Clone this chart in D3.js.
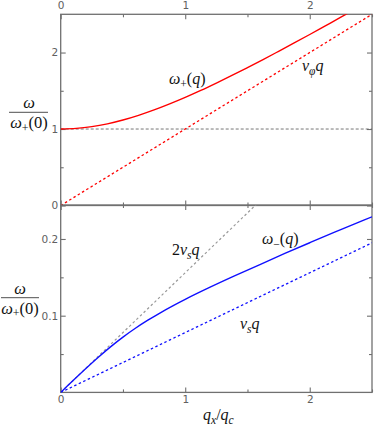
<!DOCTYPE html>
<html><head><meta charset="utf-8">
<script src="https://cdn.jsdelivr.net/npm/d3@7"></script>
<style>body{margin:0;background:#fff}svg{display:block}</style>
</head><body><svg id="c" width="374" height="428"></svg>
<script>
// ---- data ----
const qPlus = [0,0.125,0.25,0.375,0.5,0.625,0.75,0.875,1,1.125,1.25,1.375,1.5,1.625,1.75,1.875,2,2.125,2.25,2.375,2.5];
const omegaPlus = [1,1.008,1.031,1.068,1.118,1.179,1.25,1.329,1.414,1.505,1.601,1.7,1.803,1.908,2.016,2.125,2.236,2.349,2.462,2.577,2.693];
const qPhase = [0,2.5];
const phaseLine = [0,2.5];          // v_phi q
const qMinus = [0,0.1,0.2,0.3,0.4,0.5,0.6,0.7,0.8,0.9,1.0,1.2,1.4,1.6,1.8,2.0,2.2,2.4,2.5];
const omegaMinus = [0,0.0156,0.0309,0.0456,0.0594,0.0721,0.0836,0.0941,0.1038,0.1128,0.1213,0.1371,0.1521,0.1667,0.1811,0.1951,0.2089,0.2223,0.2289];
const qSound = [0,2.5];
const soundLine = [0,0.195];        // v_s q
const doubleSoundLine = [0,0.39];   // 2 v_s q
const xMajor = [0,1,2], xMinor = [0.5,1.5,2.5];
const yTopMajor = [0,1,2], yTopMinor = [0.5,1.5];
const yBotMajor = [0.1,0.2], yBotMinor = [0.05,0.15];

const svg = d3.select("#c");
const L = 60.7, R = 372;
const x = d3.scaleLinear([0,2.5],[L,R]);
const yT = d3.scaleLinear([0,2.5],[205.5,14.3]);
const yB = d3.scaleLinear([0,0.2443],[392.4,205]);
const axisCol = "#707070", textCol = "#606060";
const fmt = d => d3.format("")(d);

function styleAxis(g){
  g.select(".domain").remove();
  g.selectAll("line").attr("stroke",axisCol).attr("stroke-width",1.1);
  g.selectAll("text").attr("fill",textCol).attr("font-family","DejaVu Sans").attr("font-size","10.5px");
}
function panel(y, top, bottom, yMaj, yMin, showTopLabels, showBottomLabels, yFmt){
  const defsId = "clip"+Math.round(top);
  svg.append("clipPath").attr("id",defsId).append("rect")
    .attr("x",L).attr("y",top).attr("width",R-L).attr("height",bottom-top);
  const mk = (axis, vals, size, labels, tr, pad) => {
    const a = axis.tickValues(vals).tickSizeInner(-size).tickSizeOuter(0).tickPadding(pad)
      .tickFormat(labels ? (labels===true?fmt:labels) : "");
    svg.append("g").attr("transform",tr).call(a).call(styleAxis);
  };
  mk(d3.axisLeft(y), yMaj, 5, yFmt, `translate(${L},0)`, 2.5);
  mk(d3.axisLeft(y), yMin, 3, false, `translate(${L},0)`, 2.5);
  mk(d3.axisRight(y), yMaj, 5, false, `translate(${R},0)`, 2);
  mk(d3.axisRight(y), yMin, 3, false, `translate(${R},0)`, 2);
  mk(d3.axisTop(x), xMajor, 5, showTopLabels, `translate(0,${top})`, 5);
  mk(d3.axisTop(x), xMinor, 3, false, `translate(0,${top})`, 5);
  mk(d3.axisBottom(x), xMajor, 5, showBottomLabels, `translate(0,${bottom})`, 3.5);
  mk(d3.axisBottom(x), xMinor, 3, false, `translate(0,${bottom})`, 3.5);
  svg.append("rect").attr("x",L).attr("y",top).attr("width",R-L).attr("height",bottom-top)
    .attr("fill","none").attr("stroke",axisCol).attr("stroke-width",1.3);
  return svg.append("g").attr("clip-path",`url(#${defsId})`);
}

// top panel
const gT = panel(yT, yT(2.5), yT(0), yTopMajor, yTopMinor, true, false, true);
const lineT = d3.line().x(d=>x(d[0])).y(d=>yT(d[1]));
gT.append("path").attr("d",lineT([[0,1],[2.5,1]])).attr("fill","none")
  .attr("stroke","#666").attr("stroke-width",0.9).attr("stroke-dasharray","3,2");
gT.append("path").attr("d",lineT(qPhase.map((q,i)=>[q,phaseLine[i]]))).attr("fill","none")
  .attr("stroke","#ff0000").attr("stroke-width",1.3).attr("stroke-dasharray","2.5,2.5");
gT.append("path").attr("d",lineT.curve(d3.curveCatmullRom)(qPlus.map((q,i)=>[q,omegaPlus[i]]))).attr("fill","none")
  .attr("stroke","#ff0000").attr("stroke-width",1.4);

// bottom panel
const gB = panel(yB, yB(0.2443), yB(0), yBotMajor, yBotMinor, false, true, d=>d3.format(".1f")(d));
const lineB = d3.line().x(d=>x(d[0])).y(d=>yB(d[1]));
gB.append("path").attr("d",lineB(qSound.map((q,i)=>[q,doubleSoundLine[i]]))).attr("fill","none")
  .attr("stroke","#999").attr("stroke-width",1.2).attr("stroke-dasharray","2.5,2.5");
gB.append("path").attr("d",lineB(qSound.map((q,i)=>[q,soundLine[i]]))).attr("fill","none")
  .attr("stroke","#1010ff").attr("stroke-width",1.3).attr("stroke-dasharray","2.5,2.5");
gB.append("path").attr("d",lineB.curve(d3.curveCatmullRom)(qMinus.map((q,i)=>[q,omegaMinus[i]]))).attr("fill","none")
  .attr("stroke","#1010ff").attr("stroke-width",1.4);

// math labels
const serif = "'Liberation Serif', 'DejaVu Serif', serif";
function mathText(xp, yp, parts, size, anchor){
  const t = svg.append("text").attr("x",xp).attr("y",yp).attr("font-family",serif)
    .attr("font-size",size+"px").attr("fill","#111").attr("text-anchor",anchor||"start");
  parts.forEach(p=>{
    const s = t.append("tspan").text(p[0]);
    if(p[1]==="i") s.attr("font-style","italic");
    if(p[2]==="sub") s.attr("font-size",(size*0.72)+"px").attr("dy",3.5);
    if(p[2]==="up") s.attr("dy",-3.5);
  });
  return t;
}
function fraction(cx, lineY, x1, x2){
  mathText(cx, lineY-4, [["ω","i"]], 16.5, "middle");
  svg.append("line").attr("x1",x1).attr("x2",x2).attr("y1",lineY).attr("y2",lineY)
    .attr("stroke","#222").attr("stroke-width",0.8);
  mathText(cx, lineY+16, [["ω","i"],["+","n","sub"],["(0)","n","up"]], 16.5, "middle");
}
fraction(29, 112.3, 9, 48);
fraction(20, 297.7, 1, 39);

mathText(169, 84, [["ω","i"],["+","n","sub"],["(","n","up"],["q","i"],[")","n"]], 16);
mathText(302, 71, [["v","i"],["φ","i","sub"],["q","i","up"]], 16);
mathText(172, 255, [["2","n"],["v","i"],["s","i","sub"],["q","i","up"]], 16);
mathText(262, 244, [["ω","i"],["−","n","sub"],["(","n","up"],["q","i"],[")","n"]], 16);
mathText(240, 329, [["v","i"],["s","i","sub"],["q","i","up"]], 16);
mathText(203, 420, [["q","i"],["x","i","sub"],["/","n","up"],["q","i"],["c","i","sub"]], 16);
</script></body></html>
